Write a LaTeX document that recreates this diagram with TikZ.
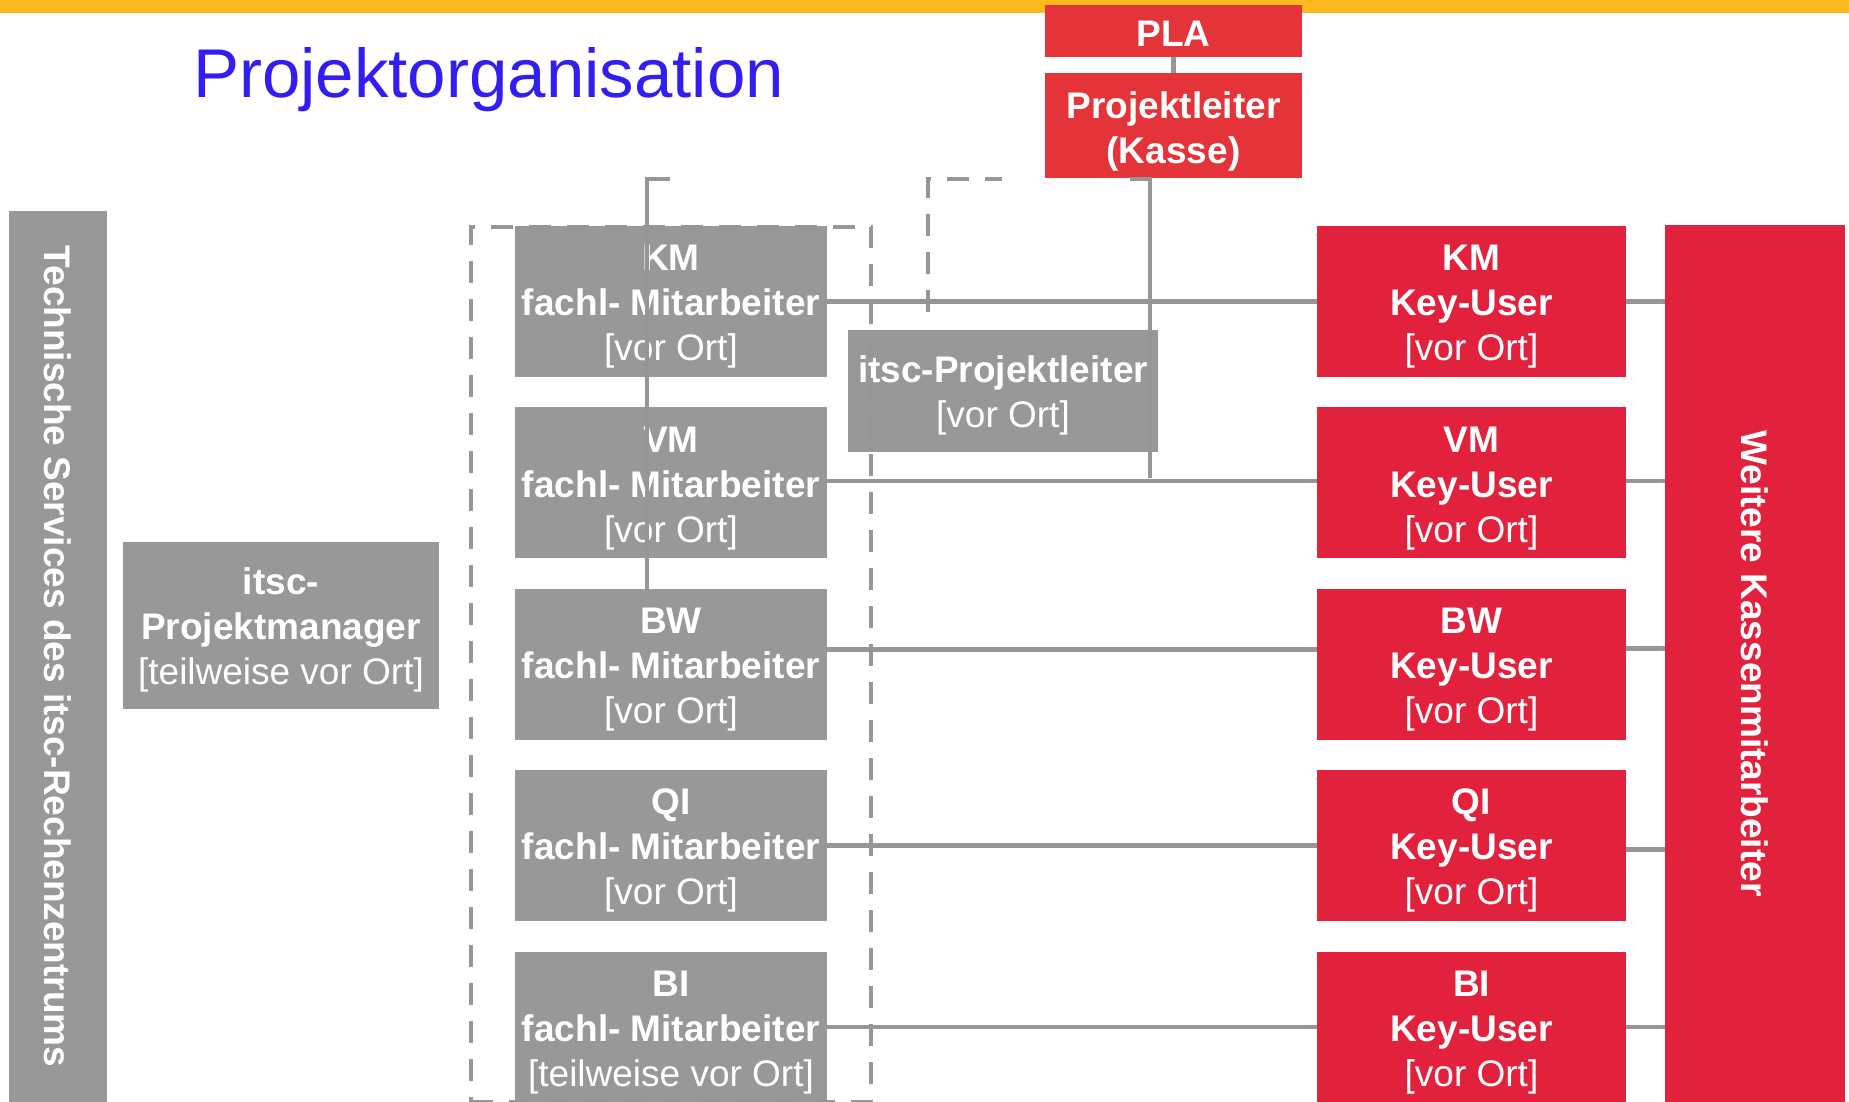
\documentclass[tikz,border=0pt]{standalone}
\usepackage{fontspec}
\setmainfont{Liberation Sans}
\usetikzlibrary{positioning,fit}

\definecolor{balkengelb}{RGB}{252,186,30}
\definecolor{titelblau}{RGB}{50,30,240}
\definecolor{kasserot}{RGB}{229,51,58}
\definecolor{keyrot}{RGB}{226,33,61}
\definecolor{itscgrau}{RGB}{152,152,152}
\definecolor{liniengrau}{RGB}{150,150,150}

\newcommand{\vorort}{[vor Ort]}
\newcommand{\teilweise}{[teilweise vor Ort]}
\newcommand{\oben}{\rule{0pt}{36pt}}
\newcommand{\dreizeilig}[3]{\oben\textbf{#1}\\\textbf{#2}\\#3}

\begin{document}
\begin{tikzpicture}[x=1pt, y=-1pt,
	box/.style    = {rectangle, inner sep=0pt, align=center, text=white, font=\fontsize{37}{45}\selectfont},
	itsc/.style   = {box, fill=itscgrau},
	fachl/.style  = {itsc, minimum width=312pt, minimum height=151pt},
	key/.style    = {box, fill=keyrot, minimum width=309pt, minimum height=151pt},
	kasse/.style  = {box, fill=kasserot, minimum width=257pt, font=\fontsize{37}{45}\selectfont\bfseries},
	senkrecht/.style = {box, rotate=-90, font=\fontsize{37}{45}\selectfont\bfseries},
	conn/.style   = {draw=liniengrau, line width=4.5pt},
	gruppe/.style = {draw=liniengrau, line width=4.5pt, dash pattern=on 22pt off 16pt},
	]
	\useasboundingbox (0,0) rectangle (1849,1102);
	
	% Balken und Titel
	\fill[balkengelb] (0,0) rectangle (1849,13);
	\node[anchor=base west, inner sep=0pt, text=titelblau, font=\fontsize{69}{80}\selectfont] (titel) at (193,98) {Projektorganisation};
	
	% Kasse oben
	\node[kasse, minimum height=52pt] (pla) at (1173.5,31) {\rule{0pt}{31pt}PLA};
	\node[kasse, minimum height=105pt, below=16pt of pla] (plk) {\rule{0pt}{38pt}Projektleiter\\(Kasse)};
	
	% itsc Seite
	\node[senkrecht, fill=itscgrau, minimum width=891pt, minimum height=98pt] (tech) at (58,656.5) {Technische Services des itsc-Rechenzentrums};
	\node[itsc, minimum width=316pt, minimum height=167pt] (pm) at (281,625.5) {\dreizeilig{itsc-}{Projektmanager}{\teilweise}};
	\node[itsc, minimum width=310pt, minimum height=122pt] (itscpl) at (1003,391) {\oben\textbf{itsc-Projektleiter}\\\vorort};
	
	% fachliche Mitarbeiter, untereinander
	\node[fachl] (fkm) at (671,301.5) {\dreizeilig{KM}{fachl- Mitarbeiter}{\vorort}};
	\node[fachl, below=30pt of fkm] (fvm) {\dreizeilig{VM}{fachl- Mitarbeiter}{\vorort}};
	\node[fachl, below=30pt of fvm] (fbw) {\dreizeilig{BW}{fachl- Mitarbeiter}{\vorort}};
	\node[fachl, below=30pt of fbw] (fqi) {\dreizeilig{QI}{fachl- Mitarbeiter}{\vorort}};
	\node[fachl, below=30pt of fqi] (fbi) {\dreizeilig{BI}{fachl- Mitarbeiter}{\teilweise}};
	
	% Key-User, untereinander
	\node[key] (kkm) at (1471.5,301.5) {\dreizeilig{KM}{Key-User}{\vorort}};
	\node[key, below=30pt of kkm] (kvm) {\dreizeilig{VM}{Key-User}{\vorort}};
	\node[key, below=30pt of kvm] (kbw) {\dreizeilig{BW}{Key-User}{\vorort}};
	\node[key, below=30pt of kbw] (kqi) {\dreizeilig{QI}{Key-User}{\vorort}};
	\node[key, below=30pt of kqi] (kbi) {\dreizeilig{BI}{Key-User}{\vorort}};
	
	\node[senkrecht, fill=keyrot, minimum width=877pt, minimum height=180pt] (weitere) at (1755,663.5) {Weitere Kassenmitarbeiter};
	
	% Rahmen um die fachlichen Mitarbeiter
	\node[gruppe, fit=(fkm)(fbi), inner xsep=44pt, inner ysep=-1pt] (rahmen) {};
	\coordinate (ecke1) at (928,312);
	\coordinate (ecke2) at (1002,179);
	\draw[gruppe] (ecke1) |- (ecke2);
	
	% Linien
	\draw[conn] (pla) -- (plk);
	\coordinate (kknick) at (1130,179);
	\coordinate (kfuss) at (1150,478);
	\draw[conn] (kknick) -| (kfuss);
	\coordinate (fkopf) at (670,179);
	\draw[conn] (fkopf) -| ([xshift=-24pt]fbw.north);
	
	\foreach \reihe/\hoch in {km/0pt, vm/2pt, bw/15pt, qi/0pt, bi/0pt}
	\draw[conn] ([yshift=\hoch]f\reihe.east) -- ([yshift=\hoch]k\reihe.west);
	
	\foreach \reihe/\hoch in {km/0pt, vm/2pt, bw/16pt, qi/-4pt, bi/0pt}
	\draw[conn] ([yshift=\hoch]k\reihe.east) -- ([yshift=\hoch]k\reihe.east -| weitere.south);
\end{tikzpicture}
\end{document}
